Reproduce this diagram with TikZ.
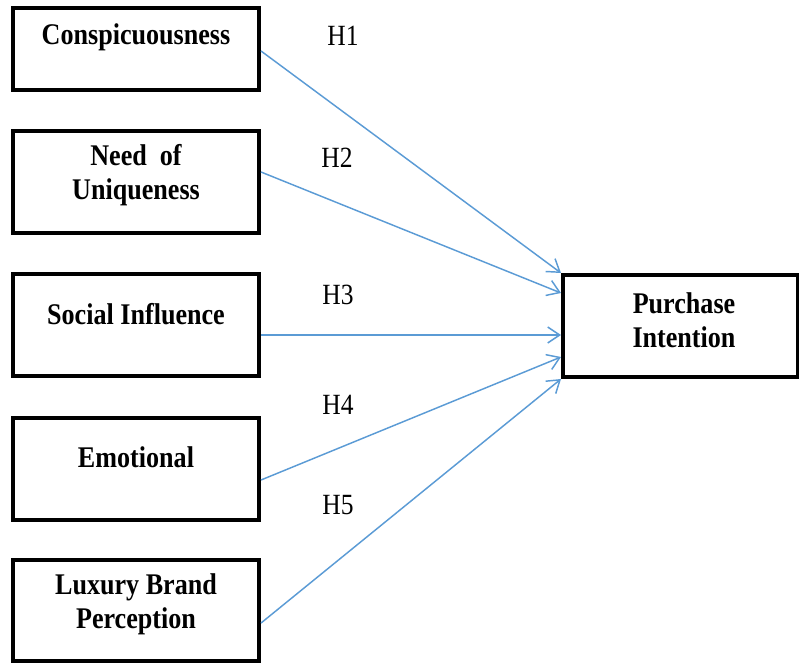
\documentclass[tikz,border=0pt]{standalone}
\usepackage{fontspec}
\setmainfont{Liberation Serif}[FakeStretch=0.87]
\usetikzlibrary{arrows.meta,fit}
\definecolor{linkblue}{RGB}{91,155,213}
\tikzset{
  box/.style={draw=black, line width=3pt, inner sep=0pt, fill=white},
  boxtext/.style={inner sep=0pt, align=center, font=\fontsize{22.5}{25.5}\selectfont\bfseries},
  hyp/.style={inner sep=0pt, font=\fontsize{22}{25}\selectfont},
  link/.style={draw=linkblue, line width=1.1pt, -{Straight Barb[length=9pt,width=12pt,line width=1.1pt]}}
}
\begin{document}
\begin{tikzpicture}[x=0.75pt, y=-0.75pt]
\useasboundingbox (0,0) rectangle (799,663);

% predictor boxes
\node[box, fit={(13,8) (259,90)}] (c1) {};
\node[box, fit={(13,131) (259,233)}] (c2) {};
\node[box, fit={(13,274) (259,376)}] (c3) {};
\node[box, fit={(13,418) (259,520)}] (c4) {};
\node[box, fit={(13,560) (259,661)}] (c5) {};
% outcome box
\node[box, fit={(563,275) (798,377)}] (pi) {};

% box captions
\node[boxtext] (t1) at (136,37) {Conspicuousness};
\node[boxtext] (t2) at (136,175) {Need\ \ of\\Uniqueness};
\node[boxtext] (t3) at (136,314) {Social Influence};
\node[boxtext] (t4) at (136,457) {Emotional};
\node[boxtext] (t5) at (136,604) {Luxury Brand\\Perception};
\node[boxtext] (t6) at (684,320) {Purchase\\Intention};

% hypothesis paths
\draw[link] ([yshift=-1.5pt]c1.east) -- (pi.north west);
\draw[link] ([yshift=7.5pt]c2.east) -- ([yshift=24.75pt]pi.west);
\draw[link] ([yshift=-7.5pt]c3.east) -- ([yshift=-6.75pt]pi.west);
\draw[link] ([yshift=-8.25pt]c4.east) -- ([yshift=-23.25pt]pi.west);
\draw[link] ([yshift=-9.4pt]c5.east) -- (pi.south west);

% hypothesis labels
\node[hyp] (h1) at (343,36) {H1};
\node[hyp] (h2) at (337,158) {H2};
\node[hyp] (h3) at (338,295) {H3};
\node[hyp] (h4) at (338,405) {H4};
\node[hyp] (h5) at (338,505) {H5};
\end{tikzpicture}
\end{document}
